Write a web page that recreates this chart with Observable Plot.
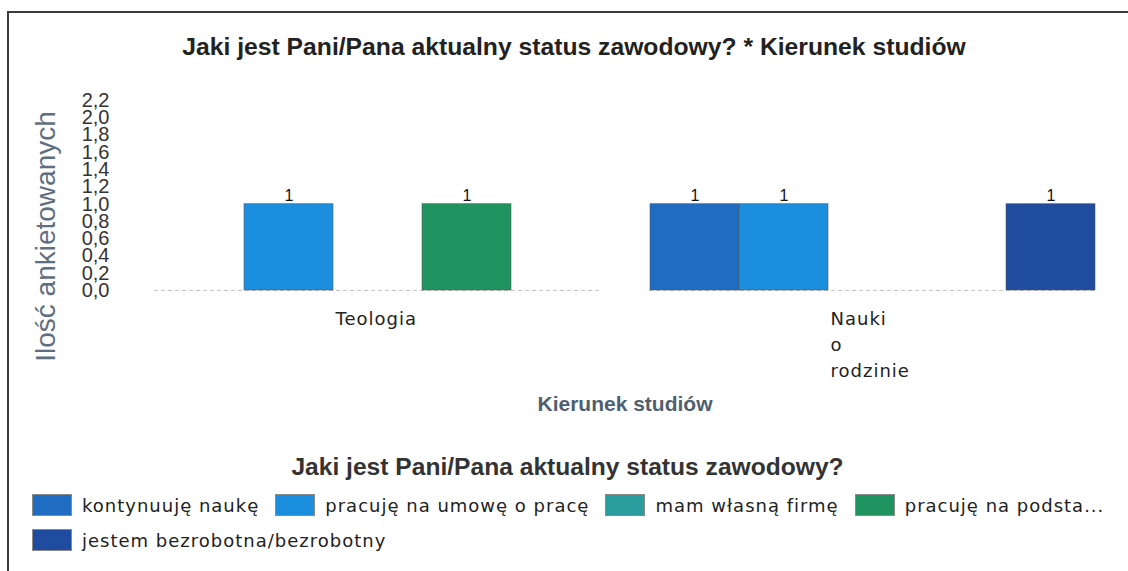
<!DOCTYPE html>
<html><head><meta charset="utf-8">
<script src="https://cdn.jsdelivr.net/npm/d3@7"></script>
<script src="https://cdn.jsdelivr.net/npm/@observablehq/plot@0.6"></script>
<style>
html,body{margin:0;padding:0;background:#fff;width:1128px;height:571px;overflow:hidden;position:relative;}
#frame{position:absolute;left:7px;top:11px;width:1121px;height:560px;border-top:2px solid #3a3a3a;border-left:2px solid #3a3a3a;box-sizing:border-box;}
#title{position:absolute;left:0;top:33px;width:1148px;text-align:center;font:bold 24.7px "Liberation Sans";color:#222;line-height:28px;white-space:nowrap;}
#chart{position:absolute;left:0;top:75px;}
#legend-title{position:absolute;left:0;top:453px;width:1135px;text-align:center;font:bold 24.6px "Liberation Sans";color:#333;line-height:28px;white-space:nowrap;}
#legend{position:absolute;left:32px;top:494px;width:1090px;display:flex;flex-wrap:wrap;row-gap:13px;column-gap:16px;}
.item{display:flex;align-items:center;height:22px;}
.sw{width:40px;height:22px;box-sizing:border-box;border:1px solid #8a8a8a;margin-right:10px;}
.lab{font:18px "DejaVu Sans";letter-spacing:1px;color:#222;white-space:nowrap;}
[aria-label="fx-axis tick label"] text{letter-spacing:1px;}
[aria-label="fx-axis label"] text{font-weight:bold;font-size:21px;fill:#4f5f70;font-family:"Liberation Sans";}
</style>
</head><body>
<div id="frame"></div>
<div id="title"></div>
<div id="chart"></div>
<div id="legend-title"></div>
<div id="legend"></div>
<script>
const title = "Jaki jest Pani/Pana aktualny status zawodowy? * Kierunek studiów";
const legendTitle = "Jaki jest Pani/Pana aktualny status zawodowy?";
const yLabel = "Ilość ankietowanych";
const xLabel = "Kierunek studiów";
const categories = ["Teologia", "Nauki o rodzinie"];
const statuses = ["kontynuuję naukę", "pracuję na umowę o pracę", "mam własną firmę", "pracuję na podsta...", "jestem bezrobotna/bezrobotny"];
const teologia = [0, 1, 0, 1, 0];
const naukiORodzinie = [1, 1, 0, 0, 1];
const colors = ["#1f6cc3", "#1b8fde", "#2a9e9e", "#1f9461", "#1f4c9e"];
const yTicks = [0, 0.2, 0.4, 0.6, 0.8, 1.0, 1.2, 1.4, 1.6, 1.8, 2.0, 2.2];

const seriesByCategory = [teologia, naukiORodzinie];
const rows = [];
categories.forEach((c, i) => statuses.forEach((s, j) => rows.push({category: c, status: s, value: seriesByCategory[i][j]})));
const bars = rows.filter(d => d.value > 0);

document.getElementById("title").textContent = title;
document.getElementById("legend-title").textContent = legendTitle;

const chart = Plot.plot({
  width: 1128, height: 345,
  marginLeft: 130, marginRight: 10, marginTop: 25, marginBottom: 130,
  style: {fontFamily: "Liberation Sans", background: "transparent", overflow: "visible"},
  fx: {domain: categories, paddingInner: 0.1, paddingOuter: 0.047},
  x: {domain: statuses, padding: 0, axis: null},
  y: {domain: [0, 2.2]},
  color: {domain: statuses, range: colors},
  marks: [
    Plot.ruleY([0], {stroke: "#c8c8c8", strokeDasharray: "4,3"}),
    Plot.barY(bars, {fx: "category", x: "status", y: "value", fill: "status", stroke: "#555", strokeOpacity: 0.55, strokeWidth: 1}),
    Plot.text(bars, {fx: "category", x: "status", y: "value", text: d => String(d.value), lineAnchor: "bottom", dy: -3, fontSize: 16, fill: "#111"}),
    Plot.axisY({ticks: yTicks, tickFormat: d => d.toFixed(1).replace(".", ","), tickSize: 0, tickPadding: 45, fontSize: 20, fill: "#333", label: null}),
    Plot.axisFx({anchor: "bottom", tickSize: 0, tickPadding: 16, tickFormat: d => d.split(" ").join("\n"), textAnchor: "start", dx: -42, fontSize: 18, fontFamily: "DejaVu Sans", lineHeight: 1.45, fill: "#222", label: xLabel, labelAnchor: "center", labelOffset: 120}),
    Plot.text([yLabel], {fx: [categories[0]], frameAnchor: "left", textAnchor: "middle", rotate: -90, dx: -108, dy: 41, fontSize: 28, fill: "#5f6f82"})
  ]
});
document.getElementById("chart").appendChild(chart);

const legend = document.getElementById("legend");
statuses.forEach((s, i) => {
  const item = document.createElement("div");
  item.className = "item";
  const sw = document.createElement("div");
  sw.className = "sw";
  sw.style.background = colors[i];
  const lab = document.createElement("span");
  lab.className = "lab";
  lab.textContent = s;
  item.appendChild(sw);
  item.appendChild(lab);
  legend.appendChild(item);
});
</script>
</body></html>
